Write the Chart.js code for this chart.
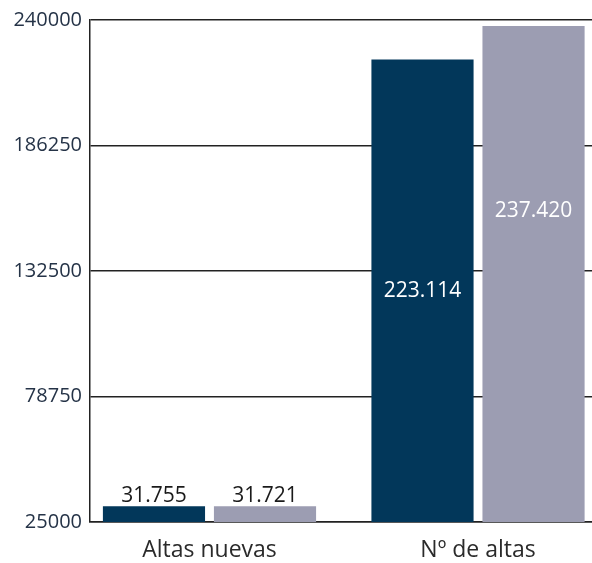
<!DOCTYPE html>
<html>
<head>
<meta charset="utf-8">
<script src="https://cdn.jsdelivr.net/npm/chart.js@4/dist/chart.umd.min.js"></script>
<style>
	html, body { margin: 0; padding: 0; background: #fff; }
	#wrap { width: 592px; height: 563px; }
</style>
</head>
<body>
<div id="wrap"><canvas id="chart"></canvas></div>
<script>

// data
var categories = ['Altas nuevas', 'Nº de altas'];
var serieA = [31755, 223114];
var serieB = [31721, 237420];
var tickValues = [25000, 78750, 132500, 186250, 240000];

var navy = '#02375a';
var grey = '#9c9db2';

function fmt(v){
	// 223114 -> 223.114
	return v.toString().replace(/\B(?=(\d{3})+(?!\d))/g, '.');
}

// categories as positions 0,1 on a linear x axis so the groups sit where they do in the original
function toPoints(arr){
	return arr.map((v, i) => ({ x: i, y: v }));
}

// draws the value labels, small bars above, big bars inside
var valueLabels = {
	id: 'valueLabels',
	afterDatasetsDraw(chart){
		var ctx = chart.ctx;
		var bottom = chart.chartArea.bottom;
		ctx.save();
		ctx.font = '21px "Open Sans"';
		ctx.textAlign = 'center';
		chart.data.datasets.forEach((ds, di) => {
			var meta = chart.getDatasetMeta(di);
			meta.data.forEach((bar, i) => {
				var v = ds.data[i].y;
				var h = bottom - bar.y;
				if (h < 40){
					ctx.fillStyle = '#1a1a1a';
					ctx.textBaseline = 'bottom';
					ctx.fillText(fmt(v), bar.x, bar.y);
				} else {
					ctx.fillStyle = '#ffffff';
					ctx.textBaseline = 'middle';
					ctx.fillText(fmt(v), bar.x, bar.y + h * ds.labelPos);
				}
			});
		});
		ctx.restore();
	}
};

new Chart(document.getElementById('chart'), {
	type: 'bar',
	data: {
		datasets: [
			{ data: toPoints(serieA), backgroundColor: navy, labelPos: 0.5 },
			{ data: toPoints(serieB), backgroundColor: grey, labelPos: 0.373 }
		]
	},
	options: {
		responsive: true,
		maintainAspectRatio: false,
		animation: false,
		categoryPercentage: 0.827,
		barPercentage: 0.92,
		layout: { padding: { top: 8, right: 0, left: 0, bottom: 0 } },
		plugins: { legend: { display: false }, tooltip: { enabled: false } },
		scales: {
			x: {
				type: 'linear',
				offset: false,
				min: -0.445,
				max: 1.4245,
				afterBuildTicks(scale){ scale.ticks = categories.map((c, i) => ({ value: i })); },
				grid: { display: false, drawTicks: false, offset: false },
				border: { display: true, color: '#222', width: 1.5 },
				ticks: {
					color: '#2a2a2a',
					font: { family: 'Open Sans', size: 23 },
					padding: 15,
					callback: v => categories[v]
				},
				afterFit(scale){ scale.height = 41; }
			},
			y: {
				min: 25000,
				max: 240000,
				afterBuildTicks(scale){ scale.ticks = tickValues.map(v => ({ value: v })); },
				grid: { color: '#222', lineWidth: 1.5, drawTicks: false },
				border: { display: true, color: '#222', width: 1.5 },
				ticks: {
					color: '#253347',
					font: { family: 'Open Sans', size: 20 },
					padding: 8,
					callback: v => String(v)
				},
				afterFit(scale){ scale.width = 90; }
			}
		}
	},
	plugins: [valueLabels]
});

</script>
</body>
</html>
